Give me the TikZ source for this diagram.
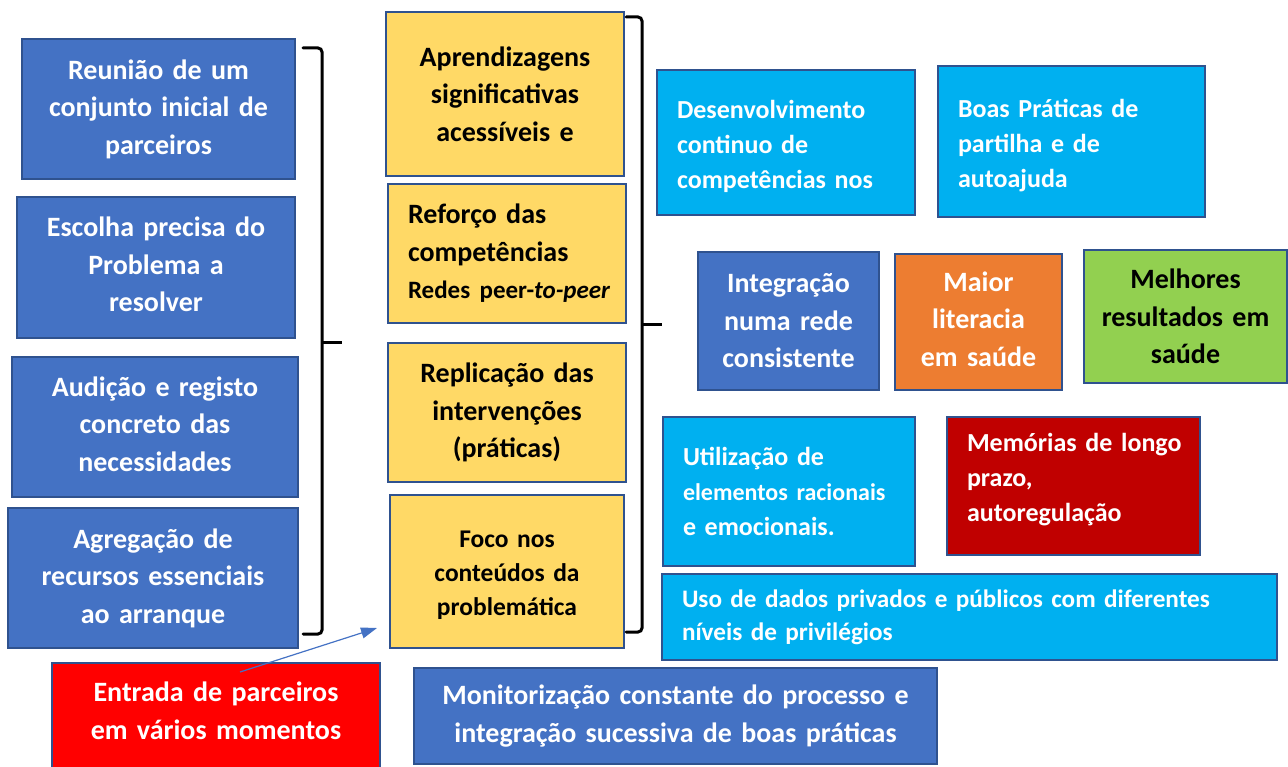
\documentclass[tikz,border=0pt]{standalone}
\usepackage{fontspec}
\setmainfont{Carlito}
\usetikzlibrary{arrows.meta}
\definecolor{bbox}{HTML}{4472C4}
\definecolor{bord}{HTML}{2F528F}
\definecolor{ybox}{HTML}{FFD966}
\definecolor{cbox}{HTML}{00B0F0}
\definecolor{obox}{HTML}{ED7D31}
\definecolor{gbox}{HTML}{92D050}
\definecolor{dred}{HTML}{C00000}
\definecolor{rbox}{HTML}{FF0000}
\tikzset{
  box/.style={draw=bord, line width=2pt, inner ysep=0pt, font=\bfseries\fontsize{28}{37.5}\selectfont},
  cbx/.style={box, align=center},
  lbx/.style={box, align=left, inner xsep=20pt},
  sz/.style 2 args={minimum width=#1pt, minimum height=#2pt},
  brace/.style={line width=3pt, rounded corners=4pt, line cap=round},
  arr/.style={draw=bbox, line width=1.2pt, -{Triangle[length=16pt,width=11pt]}}
}
\begin{document}
\begin{tikzpicture}[x=1pt,y=-1pt]
\useasboundingbox (0,0) rectangle (1288,767);
% left column
\node[cbx, fill=bbox, text=white, sz={273}{140}, text width=253pt] (L1) at (158.5,109) {Reunião de um\\conjunto inicial de\\parceiros};
\node[cbx, fill=bbox, text=white, sz={278}{141}, text width=258pt] (L2) at (156,267.5) {Escolha precisa do\\Problema a\\resolver\\[-31.5pt]\mbox{}};
\node[cbx, fill=bbox, text=white, sz={286}{140}, text width=266pt] (L3) at (155,427) {Audição e registo\\concreto das\\necessidades\\[-31.5pt]\mbox{}};
\node[cbx, fill=bbox, text=white, sz={290}{140}, text width=270pt] (L4) at (153,578) {Agregação de\\recursos essenciais\\ao arranque};
% left bracket
\coordinate (lb1) at (303,48);
\coordinate (lb2) at (322,48);
\coordinate (lb3) at (322,634);
\coordinate (lb4) at (303,634);
\coordinate (lbm) at (322,343);
\coordinate (lbt) at (342,343);
\draw[brace] (lb1) -- (lb2) -- (lb3) -- (lb4);
\draw[line width=3pt] (lbm) -- (lbt);
% yellow column
\node[cbx, fill=ybox, text=black, sz={238}{164}, text width=218pt] (Y1) at (505,94) {Aprendizagens\\significativas\\acessíveis e};
\node[lbx, fill=ybox, text=black, sz={238}{139}, text width=198pt] (Y2) at (507,253.5) {\mbox{Reforço das}\\\mbox{competências}\\\mbox{\fontsize{25}{30}\selectfont Redes peer-\textit{to-peer}}};
\node[cbx, fill=ybox, text=black, sz={238}{139}, text width=218pt] (Y3) at (507,412.5) {Replicação das\\intervenções\\(práticas)};
\node[cbx, fill=ybox, text=black, sz={234}{153}, text width=214pt, font=\bfseries\fontsize{25.5}{34}\selectfont] (Y4) at (507,571.5) {\rule{0pt}{24pt}Foco nos\\conteúdos da\\problemática};
% right bracket
\coordinate (rb1) at (626,17);
\coordinate (rb2) at (642,17);
\coordinate (rb3) at (642,632);
\coordinate (rb4) at (626,632);
\coordinate (rbm) at (642,325);
\coordinate (rbt) at (662,325);
\draw[brace] (rb1) -- (rb2) -- (rb3) -- (rb4);
\draw[line width=3pt] (rbm) -- (rbt);
% right area
\node[lbx, fill=cbox, text=white, sz={258}{145}, text width=218pt, font=\bfseries\fontsize{26}{35}\selectfont] (D1) at (786,142.5) {\rule{0pt}{26pt}Desenvolvimento\\continuo de\\\mbox{competências nos}};
\node[lbx, fill=cbox, text=white, sz={267}{151}, text width=227pt, font=\bfseries\fontsize{26}{35}\selectfont] (D2) at (1071.5,141.5) {\rule{0pt}{26pt}Boas Práticas de\\partilha e de\\autoajuda};
\node[cbx, fill=bbox, text=white, sz={181}{138}, text width=171pt] (I) at (788.5,321) {Integração\\numa rede\\consistente};
\node[cbx, fill=obox, text=white, sz={167}{136}, text width=157pt] (M) at (978.5,322) {Maior\\literacia\\em saúde\\[-31.5pt]\mbox{}};
\node[cbx, fill=gbox, text=black, sz={203}{133}, text width=193pt] (Mel) at (1185.5,316.5) {Melhores\\resultados em\\saúde};
\node[lbx, fill=cbox, text=white, sz={252}{149}, text width=212pt, font=\bfseries\fontsize{26}{35}\selectfont] (U) at (789,491.5) {Utilização de\\\mbox{\fontsize{24}{35}\selectfont elementos racionais}\\e emocionais.};
\node[lbx, fill=dred, text=white, sz={253}{138}, text width=213pt, font=\bfseries\fontsize{26}{35}\selectfont] (Mem) at (1073.5,486) {\mbox{Memórias de longo}\\prazo,\\autoregulação\\[-18pt]\mbox{}};
\node[lbx, fill=cbox, text=white, sz={615}{86}, text width=575pt, font=\bfseries\fontsize{25.2}{33}\selectfont] (Uso) at (969.5,617) {\mbox{Uso de dados privados e públicos com diferentes}\\níveis de privilégios};
\node[cbx, fill=bbox, text=white, sz={523}{96}, text width=503pt] (Mon) at (675.5,716) {Monitorização constante do processo e\\integração sucessiva de boas práticas};
\node[cbx, fill=rbox, text=white, sz={328}{110}, text width=308pt] (E) at (216,718) {Entrada de parceiros\\em vários momentos\\[-23pt]\mbox{}};
% arrow
\coordinate (as) at (240,672);
\coordinate (ae) at (377,628);
\draw[arr] (as) -- (ae);
\end{tikzpicture}
\end{document}
